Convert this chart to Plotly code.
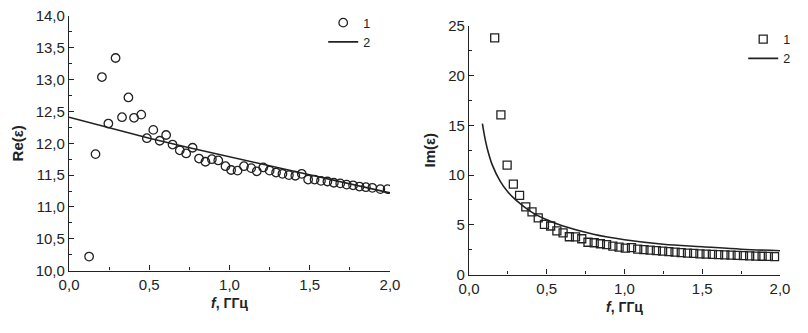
import plotly.graph_objects as go

# ---- Left panel: Re(eps) ----
re_f = [0.125, 0.165, 0.205, 0.245, 0.29, 0.33, 0.37, 0.405, 0.45, 0.485,
        0.525, 0.565, 0.605, 0.645, 0.69, 0.73, 0.77, 0.81, 0.85, 0.89,
        0.93, 0.975, 1.01, 1.05, 1.09, 1.135, 1.17, 1.21, 1.25, 1.29,
        1.33, 1.37, 1.41, 1.45, 1.49, 1.53, 1.57, 1.61, 1.65, 1.69,
        1.73, 1.77, 1.81, 1.85, 1.89, 1.94, 1.985]
re_meas = [10.22, 11.83, 13.04, 12.31, 13.34, 12.41, 12.72, 12.40, 12.45, 12.08,
           12.21, 12.04, 12.13, 11.98, 11.89, 11.84, 11.93, 11.76, 11.71, 11.75,
           11.73, 11.64, 11.58, 11.57, 11.64, 11.61, 11.56, 11.62, 11.57, 11.54,
           11.52, 11.50, 11.49, 11.52, 11.43, 11.43, 11.41, 11.40, 11.38, 11.37,
           11.35, 11.34, 11.32, 11.31, 11.30, 11.28, 11.28]
re_fit_f = [0.0, 0.25, 0.5, 0.75, 1.0, 1.25, 1.5, 1.75, 2.0]
re_fit = [12.41, 12.24, 12.08, 11.93, 11.79, 11.65, 11.51, 11.37, 11.22]

# ---- Right panel: Im(eps) ----
im_f = [0.165, 0.205, 0.245, 0.285, 0.325, 0.365, 0.405, 0.445, 0.485, 0.525,
        0.565, 0.605, 0.645, 0.685, 0.725, 0.765, 0.805, 0.845, 0.885, 0.925,
        0.965, 1.005, 1.045, 1.085, 1.125, 1.165, 1.205, 1.245, 1.285, 1.325,
        1.365, 1.405, 1.445, 1.485, 1.525, 1.565, 1.605, 1.645, 1.685, 1.725,
        1.765, 1.805, 1.845, 1.885, 1.925, 1.965]
im_meas = [23.8, 16.05, 11.0, 9.1, 7.97, 6.8, 6.3, 5.7, 5.05, 4.88,
           4.4, 4.2, 3.8, 3.78, 3.6, 3.25, 3.2, 3.1, 3.0, 2.85,
           2.75, 2.65, 2.7, 2.55, 2.5, 2.45, 2.4, 2.35, 2.3, 2.25,
           2.2, 2.15, 2.12, 2.08, 2.05, 2.02, 2.0, 1.97, 1.95, 1.93,
           1.9, 1.88, 1.86, 1.84, 1.82, 1.8]
im_fit_f = [0.086, 0.1, 0.12, 0.15, 0.2, 0.25, 0.3, 0.4, 0.5, 0.6,
            0.8, 1.0, 1.25, 1.5, 1.75, 2.0]
im_fit = [15.17, 13.9, 12.5, 11.0, 9.4, 8.3, 7.5, 6.3, 5.5, 4.9,
          4.05, 3.5, 3.05, 2.8, 2.55, 2.4]

left_y_ticks = [10.0, 10.5, 11.0, 11.5, 12.0, 12.5, 13.0, 13.5, 14.0]
right_y_ticks = [0, 5, 10, 15, 20, 25]
x_ticks = [0.0, 0.5, 1.0, 1.5, 2.0]
legend_names = ["1", "2"]

FONT = "Arial, Liberation Sans, sans-serif"
INK = "#222222"

fig = go.Figure()
fig.add_trace(go.Scatter(x=re_f, y=re_meas, mode="markers", name=legend_names[0],
                         marker=dict(symbol="circle-open", size=8.5, color=INK,
                                     line=dict(width=1.3, color=INK)),
                         xaxis="x", yaxis="y", legend="legend"))
fig.add_trace(go.Scatter(x=re_fit_f, y=re_fit, mode="lines", name=legend_names[1],
                         line=dict(color=INK, width=1.6),
                         xaxis="x", yaxis="y", legend="legend"))
fig.add_trace(go.Scatter(x=im_f, y=im_meas, mode="markers", name=legend_names[0],
                         marker=dict(symbol="square-open", size=8, color=INK,
                                     line=dict(width=1.3, color=INK)),
                         xaxis="x2", yaxis="y2", legend="legend2"))
fig.add_trace(go.Scatter(x=im_fit_f, y=im_fit, mode="lines", name=legend_names[1],
                         line=dict(color=INK, width=1.6, shape="spline"),
                         xaxis="x2", yaxis="y2", legend="legend2"))

def xaxis(domain, anchor):
    return dict(domain=domain, anchor=anchor, range=[0, 2.0001], automargin=False,
                ticklabeloverflow="allow",
                tickvals=x_ticks, tickformat=".1f",
                ticks="inside", ticklen=5, tickwidth=1.2, tickcolor=INK,
                minor=dict(ticks="inside", dtick=0.25, ticklen=3, tickcolor=INK, tickwidth=1),
                showline=True, linecolor=INK, linewidth=1.4, showgrid=False, zeroline=False,
                tickfont=dict(family=FONT, size=15, color=INK),
                title=dict(text="<b><i>f</i>, ГГц</b>", font=dict(family=FONT, size=14, color=INK),
                           standoff=6))

def yaxis(domain, anchor, rng, ticks, fmt, mdt, title):
    return dict(domain=domain, anchor=anchor, range=rng, automargin=False,
                ticklabeloverflow="allow",
                tickvals=ticks, tickformat=fmt,
                ticks="inside", ticklen=5, tickwidth=1.2, tickcolor=INK,
                minor=dict(ticks="inside", dtick=mdt, ticklen=3, tickcolor=INK, tickwidth=1),
                showline=True, linecolor=INK, linewidth=1.4, showgrid=False, zeroline=False,
                tickfont=dict(family=FONT, size=15, color=INK),
                title=dict(text="<b>" + title + "</b>", font=dict(family=FONT, size=15, color=INK),
                           standoff=8))

fig.update_layout(
    width=800, height=325,
    margin=dict(l=0, r=0, t=0, b=0),
    paper_bgcolor="white", plot_bgcolor="white",
    separators=", ",
    font=dict(family=FONT, color=INK),
    xaxis=xaxis([0.0763, 0.4775], "y"),
    yaxis=yaxis([0.1938, 0.9846], "x", [10, 14.0001], left_y_ticks, ".1f", 0.25, "Re(ε)"),
    xaxis2=xaxis([0.5763, 0.965], "y2"),
    yaxis2=yaxis([0.1815, 0.9538], "x2", [0, 25.001], right_y_ticks, "d", 2.5, "Im(ε)"),
    legend=dict(x=0.394, y=1.01, xanchor="left", yanchor="top",
                bgcolor="rgba(0,0,0,0)", font=dict(family=FONT, size=12.5, color=INK),
                tracegroupgap=0, itemwidth=30),
    legend2=dict(x=0.919, y=0.958, xanchor="left", yanchor="top",
                 bgcolor="rgba(0,0,0,0)", font=dict(family=FONT, size=12.5, color=INK),
                 tracegroupgap=0, itemwidth=30),
)

fig.write_html("out.html")
